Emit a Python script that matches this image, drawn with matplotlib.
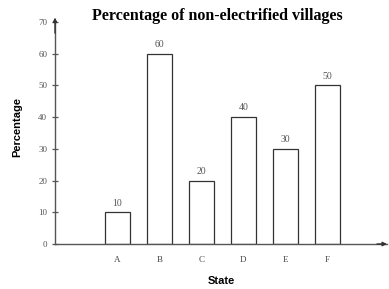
import matplotlib
matplotlib.use("Agg")
import matplotlib.pyplot as plt

states = ["A", "B", "C", "D", "E", "F"]
values = [10, 60, 20, 40, 30, 50]
yticks = [0, 10, 20, 30, 40, 50, 60, 70]

fig = plt.figure(figsize=(3.89, 2.89), dpi=100)
ax = fig.add_axes([55/389, 45/289, (387-55)/389, (244-22)/289])
x = list(range(len(states)))
ax.bar(x, values, width=0.6, color="white", edgecolor="#333333", linewidth=0.9)
for xi, v in zip(x, values):
    ax.text(xi, v + 1.5, str(v), ha="center", va="bottom", fontsize=7,
            family="Liberation Serif", color="#555555")
ax.set_xlim(-1.49, 6.42)
ax.set_ylim(0, 70)
ax.set_yticks(yticks)
ax.set_xticks(x)
ax.set_xticklabels(states, family="Liberation Serif", fontsize=6.5, color="#444444")
ax.tick_params(axis="x", length=0, pad=9)
ax.tick_params(axis="y", direction="inout", length=5, width=0.9, color="#555555",
               labelsize=6.5, labelcolor="#555555", pad=3)
for lab in ax.get_yticklabels():
    lab.set_family("Liberation Serif")
for s in ["top", "right"]:
    ax.spines[s].set_visible(False)
for s in ["left", "bottom"]:
    ax.spines[s].set_color("#555555")
    ax.spines[s].set_linewidth(1.0)
ax.annotate("", xy=(0, 1.02), xycoords="axes fraction", xytext=(0, 0.95),
            arrowprops=dict(arrowstyle="-|>", color="#333333", lw=1.0,
                            mutation_scale=6, shrinkA=0, shrinkB=0))
ax.annotate("", xy=(1.0, 0), xycoords="axes fraction", xytext=(0.97, 0),
            arrowprops=dict(arrowstyle="-|>", color="#333333", lw=1.0,
                            mutation_scale=6, shrinkA=0, shrinkB=0))
ax.set_xlabel("State", family="Liberation Sans", fontweight="bold", fontsize=8)
ax.set_ylabel("Percentage", family="Liberation Sans", fontweight="bold", fontsize=8)
ax.xaxis.set_label_coords(0.5, -32/222)
ax.yaxis.set_label_coords(-33/332, 0.527)
fig.text(217/389, 1 - 16/289, "Percentage of non-electrified villages",
         ha="center", va="center", family="Liberation Serif", fontweight="bold",
         fontsize=11.5)
fig.savefig("out.png", dpi=100)
